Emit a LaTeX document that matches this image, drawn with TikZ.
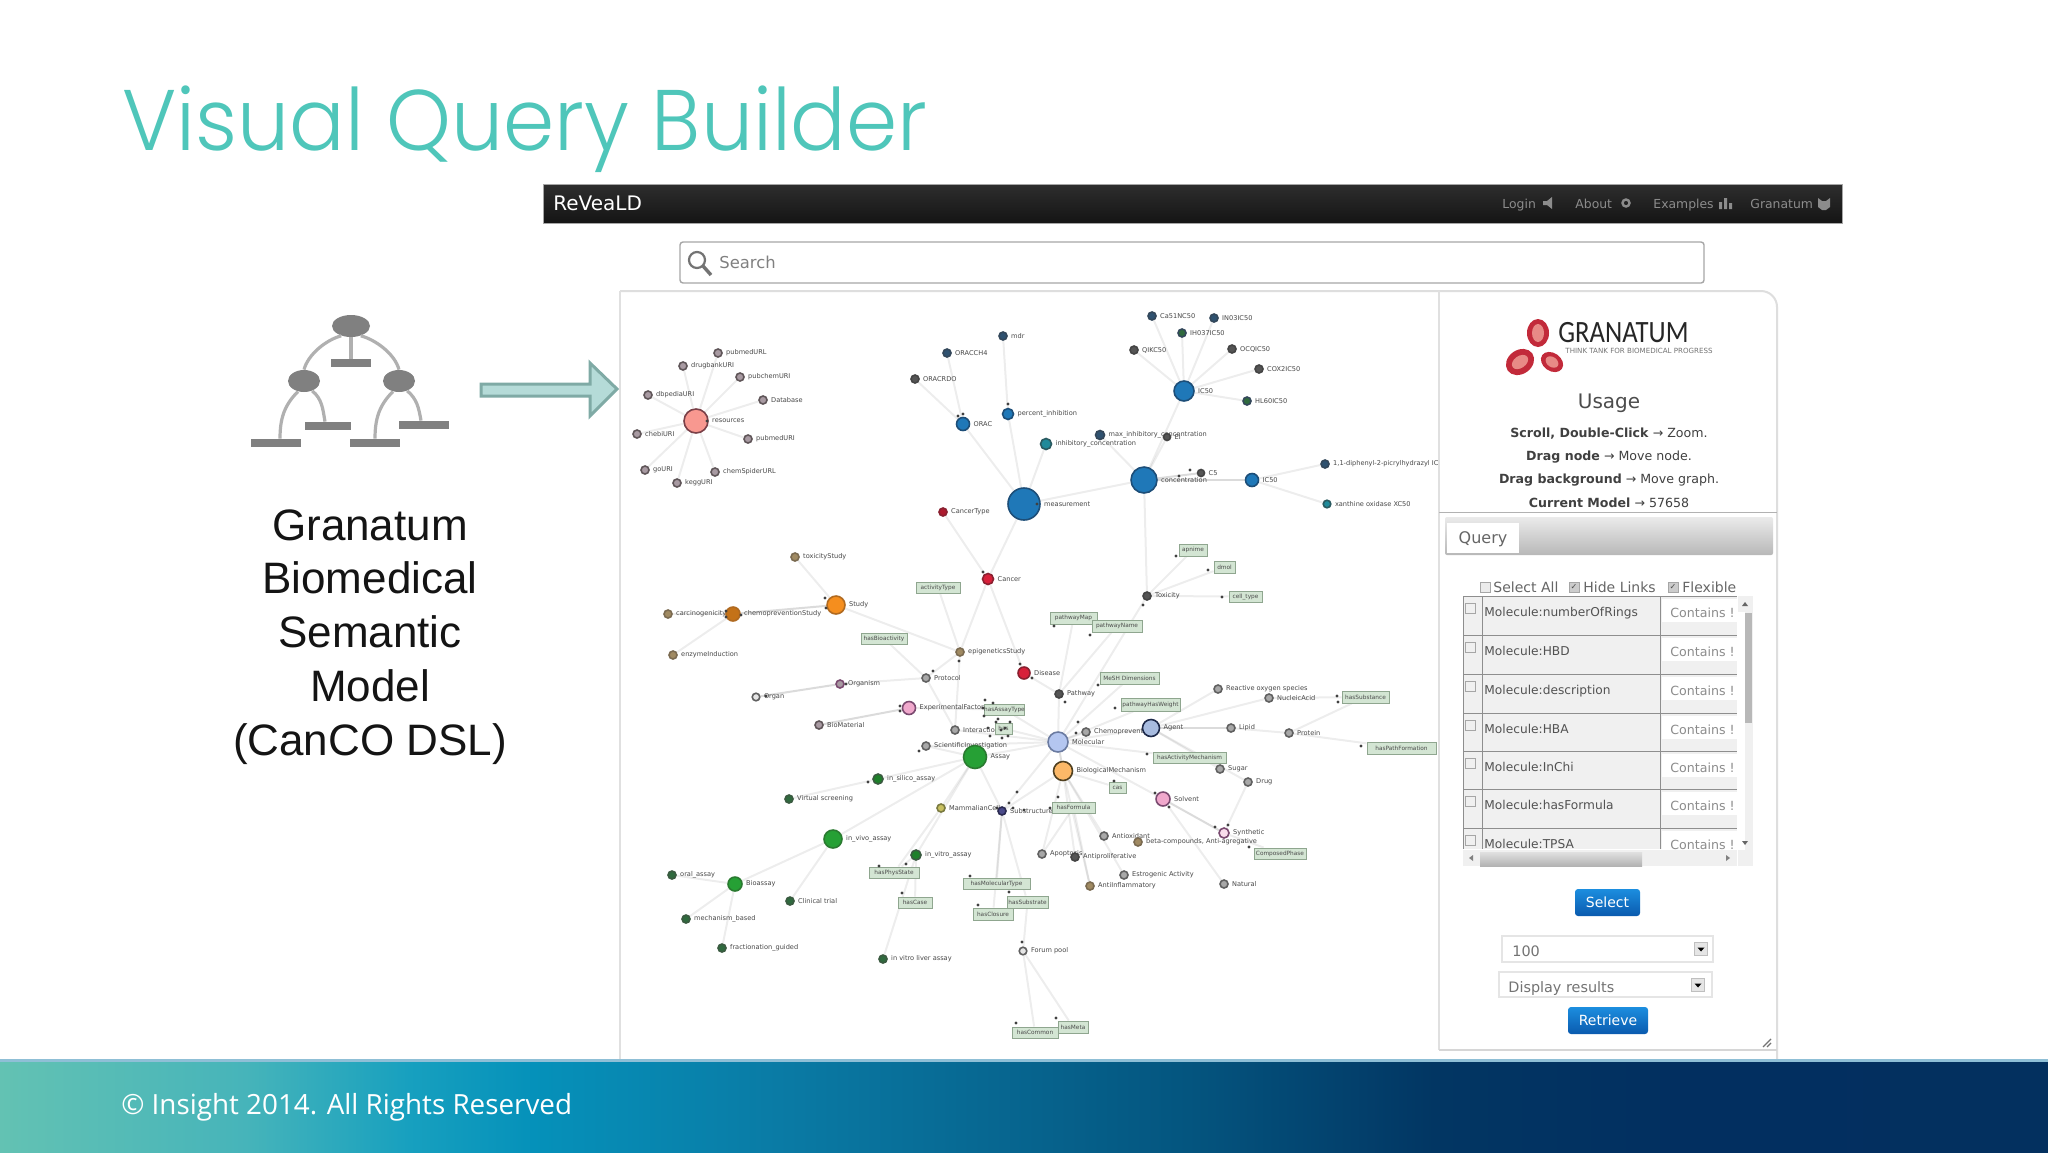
\documentclass[tikz,border=0pt]{standalone}
\usepackage{fontspec}
\setmainfont{DejaVu Sans}
\newfontfamily\titlefont{Poppins Light}
\newfontfamily\footfont{Open Sans}
\newfontfamily\arialfont{Liberation Sans}
\newfontfamily\logofont{Carlito}
\usetikzlibrary{calc,shapes.geometric}
\pgfdeclarelayer{bgl}
\pgfdeclarelayer{edges}
\pgfsetlayers{bgl,edges,main}
\definecolor{cTitle}{HTML}{4FC6BA}
\definecolor{gpFill}{HTML}{A89AA2}\definecolor{gpDraw}{HTML}{5F5558}
\definecolor{bdFill}{HTML}{2F5270}\definecolor{bdDraw}{HTML}{33475A}
\definecolor{bhFill}{HTML}{1F78B8}\definecolor{bhDraw}{HTML}{1D4E78}
\definecolor{gyFill}{HTML}{A8A8A8}\definecolor{gyDraw}{HTML}{606060}
\definecolor{dkFill}{HTML}{555555}\definecolor{dkDraw}{HTML}{444444}
\definecolor{grFill}{HTML}{26A035}\definecolor{grDraw}{HTML}{2A7A30}
\definecolor{gdFill}{HTML}{2F6A3E}\definecolor{gdDraw}{HTML}{3A5A40}
\definecolor{orFill}{HTML}{F58E1E}\definecolor{orDraw}{HTML}{B06A20}
\definecolor{brFill}{HTML}{A08A62}\definecolor{brDraw}{HTML}{7A6A50}
\definecolor{rdFill}{HTML}{D8203A}\definecolor{rdDraw}{HTML}{8A2030}
\definecolor{pkFill}{HTML}{F0A8CC}\definecolor{pkDraw}{HTML}{7A4A70}
\definecolor{lbFill}{HTML}{B4C6F0}\definecolor{lbDraw}{HTML}{6A7AA0}
\definecolor{loFill}{HTML}{FBB868}\definecolor{loDraw}{HTML}{504020}
\definecolor{saFill}{HTML}{F89890}\definecolor{saDraw}{HTML}{7A4048}
\definecolor{agFill}{HTML}{A8BCE0}\definecolor{agDraw}{HTML}{1E2A4A}
\definecolor{ylFill}{HTML}{C8C060}\definecolor{ylDraw}{HTML}{7A7A40}
\definecolor{nvFill}{HTML}{4A4A8A}\definecolor{nvDraw}{HTML}{2A2A50}
\definecolor{tlFill}{HTML}{1F8A9A}\definecolor{tlDraw}{HTML}{2A5A60}
\definecolor{tagFill}{HTML}{D3E5D3}\definecolor{tagDraw}{HTML}{8FA68F}
\definecolor{iconG}{HTML}{8C8C8C}\definecolor{barG}{HTML}{808080}\definecolor{lineG}{HTML}{B0B0B0}
\definecolor{arF}{HTML}{B5DBD8}\definecolor{arD}{HTML}{7FAAA5}
\definecolor{rowG}{HTML}{F0F0F0}\definecolor{ruleG}{HTML}{8E8E8E}
\definecolor{btnT}{HTML}{1C8EDF}\definecolor{btnB}{HTML}{0A5AAE}
\definecolor{redL}{HTML}{C22A3A}\definecolor{redI}{HTML}{E88A86}
\definecolor{footLine}{HTML}{8FBFD6}
\pgfdeclarehorizontalshading{footband}{100bp}{
 rgb(0bp)=(.388,.761,.702);
 rgb(25bp)=(.388,.761,.702);
 rgb(31bp)=(.275,.706,.729);
 rgb(35bp)=(.09,.627,.749);
 rgb(38bp)=(.02,.569,.729);
 rgb(44bp)=(.039,.482,.647);
 rgb(54bp)=(.016,.333,.498);
 rgb(60bp)=(.008,.212,.388);
 rgb(66bp)=(.008,.184,.376);
 rgb(75bp)=(.012,.188,.373);
 rgb(100bp)=(.012,.188,.373)}
\newcommand\fsz[1]{\fontsize{#1}{#1}\selectfont}
\tikzset{
 x=0.5pt,y=-0.5pt,
 gnode/.style={circle,inner sep=0pt,line width=0.8pt},
 glab/.style={inner sep=0pt,text=black!72,font=\fsz{3.3},label distance=1.5pt},
 tagbox/.style={rectangle,draw=tagDraw,fill=tagFill,inner sep=0pt,line width=0.5pt,text=black!70,font=\fsz{2.9}},
 lnk/.style={draw=black,draw opacity=0.07,line width=1pt},
 lnkb/.style={draw=black,draw opacity=0.14,line width=1pt},
 dotm/.style={fill=black!75},
 treebar/.style={rectangle,fill=barG,inner sep=0pt,minimum height=4pt},
 treeell/.style={ellipse,fill=barG,inner sep=0pt},
 treeline/.style={draw=lineG,line width=1.6pt},
 bluebtn/.style={rectangle,rounded corners=1.5pt,top color=btnT,bottom color=btnB,text=white,font=\fsz{7},inner sep=0pt},
 rowtxt/.style={anchor=base west,inner sep=0pt,text=black!68,font=\fsz{6.1}},
 conttxt/.style={anchor=base west,inner sep=0pt,text=black!45,font=\fsz{6.3}},
 chk/.style={rectangle,draw=black!35,fill=white!92!black,line width=0.4pt,minimum size=5pt,inner sep=0pt},
 side/.style={anchor=base,inner sep=0pt,text=black!75,font=\fsz{6.3}},
 navt/.style={anchor=base west,inner sep=0pt,text=black!45,font=\fsz{6.2}},
 seltxt/.style={anchor=base west,inner sep=0pt,text=black!60,font=\fsz{7}},
}
\newcommand\gn[7]{\node[gnode,minimum size=#4 pt,fill=#5,draw=#6,label={[glab]right:#7}] (#1) at (#2,#3) {};}
\newcommand\tg[6]{\pgfmathsetmacro\tgw{(#4-#2)*0.5}\pgfmathsetmacro\tgh{(#5-#3)*0.5}\node[tagbox,minimum width=\tgw pt,minimum height=\tgh pt] (#1) at ({(#2+#4)/2},{(#3+#5)/2}) {#6};}
\begin{document}
\begin{tikzpicture}
\useasboundingbox (0,0) rectangle (2048,1152);
\begin{pgfonlayer}{bgl}
\fill[white] (0,0) rectangle (2048,1152);
% panel outlines
\draw[black!13,line width=1pt,rounded corners=8pt] (620,291) -- (1777,291) -- (1777,1060);
\draw[black!12,line width=0.8pt] (620,291) -- (620,1060);
\draw[black!12,line width=0.8pt] (1439,291) -- (1439,1050);
\draw[black!16,line width=1.2pt] (1439,1050) -- (1777,1050);
\end{pgfonlayer}
% title
\node[anchor=base west,inner sep=0pt,text=cTitle,font=\titlefont\fsz{43}] (title) at (122,150) {\scalebox{0.957}[1]{Visual Query Builder}};
% footer
\shade[shading=footband] (0,1060) rectangle (2048,1152);
\fill[footLine] (0,1059) rectangle (2048,1062);
\node[anchor=base west,inner sep=0pt,text=white,font=\footfont\fsz{13.9}] (foot) at (121,1114) {© Insight 2014. All Rights Reserved};
% navbar
\draw[black!35,line width=0.5pt,top color=black!82,bottom color=black!92] (543,184) rectangle (1842,223);
\node[anchor=base west,inner sep=0pt,text=white,font=\fsz{10}] (brand) at (553,210) {ReVeaLD};
\node[navt] (nlogin) at (1502,208) {Login};
\fill[black!45] (1543,201) -- (1547,201) -- (1552,197) -- (1552,209) -- (1547,205) -- (1543,205) -- cycle;
\node[navt] (nabout) at (1575,208) {About};
\draw[black!45,line width=1.2pt] (1626,203) circle (3.5);
\node[navt] (nex) at (1653,208) {Examples};
\fill[black!45] (1719,202) rectangle (1722,209) (1724,198) rectangle (1727,209) (1729,203) rectangle (1732,209);
\node[navt] (ngr) at (1750,208) {Granatum};
\fill[black!45] (1818,198) -- (1822,201) -- (1826,201) -- (1830,198) -- (1830,207) -- (1826,210) -- (1822,210) -- (1818,207) -- cycle;
% search
\draw[black!35,line width=0.7pt,fill=white,rounded corners=1.5pt] (680,242) rectangle (1704,283);
\draw[black!55,line width=1.1pt] (697,260) circle (8);
\draw[black!55,line width=1.7pt] (703,266) -- (711,275);
\node[anchor=base west,inner sep=0pt,text=black!50,font=\fsz{8.2}] (search) at (719,268) {Search};
% tree icon
\node[treeell,minimum width=19pt,minimum height=11pt] (t0) at (351,326) {};
\node[treeell,minimum width=16pt,minimum height=11pt] (t1) at (304,381) {};
\node[treeell,minimum width=16pt,minimum height=11pt] (t2) at (399,381) {};
\node[treebar,minimum width=20pt] (b0) at (351,363) {};
\node[treebar,minimum width=23pt] (b1) at (328,426) {};
\node[treebar,minimum width=25pt] (b2) at (276,443) {};
\node[treebar,minimum width=25pt] (b3) at (424,425) {};
\node[treebar,minimum width=25pt] (b4) at (375,443) {};
\draw[treeline] (t0) -- (b0);
\draw[treeline] (t0.225) to[out=195,in=75,looseness=0.8] (t1.90);
\draw[treeline] (t0.315) to[out=-15,in=105,looseness=0.8] (t2.90);
\draw[treeline] (t1.240) to[out=225,in=90] ($(b2.north)+(4,0)$);
\draw[treeline] (t1.310) to[out=-40,in=100] ($(b1.north)+(-3,0)$);
\draw[treeline] (t2.240) to[out=225,in=90] (b4.north);
\draw[treeline] (t2.310) to[out=-40,in=100] ($(b3.north)+(-3,0)$);
% big arrow
\draw[arD,fill=arF,line width=1.5pt,line join=miter] (481,384) -- (590,384) -- (590,363) -- (617,389) -- (590,416) -- (590,396) -- (481,396) -- cycle;
% left text
\node[align=center,inner sep=0pt,text=black!92,font=\arialfont\fsz{22}] (ltxt) at (370,639) {\begin{tabular}{@{}c@{}}Granatum\\[4.4pt]Biomedical\\[4.4pt]Semantic\\[4.4pt]Model\\[4.4pt](CanCO DSL)\end{tabular}};
% graph nodes
\gn{res}{696}{421}{12}{saFill}{saDraw}{resources}
\gn{a1}{718}{353}{4}{gpFill}{gpDraw}{pubmedURL}
\gn{a2}{683}{366}{4}{gpFill}{gpDraw}{drugbankURI}
\gn{a3}{740}{377}{4}{gpFill}{gpDraw}{pubchemURI}
\gn{a4}{763}{400}{4}{gpFill}{gpDraw}{Database}
\gn{a5}{648}{395}{4}{gpFill}{gpDraw}{dbpediaURI}
\gn{a6}{637}{434}{4}{gpFill}{gpDraw}{chebiURI}
\gn{a7}{748}{439}{4}{gpFill}{gpDraw}{pubmedURI}
\gn{a8}{645}{470}{4}{gpFill}{gpDraw}{goURI}
\gn{a9}{677}{483}{4}{gpFill}{gpDraw}{keggURI}
\gn{a10}{715}{472}{4}{gpFill}{gpDraw}{chemSpiderURL}
\gn{mdr}{1003}{336}{4}{bdFill}{bdDraw}{mdr}
\gn{och}{947}{353}{4}{bdFill}{bdDraw}{ORACCH4}
\gn{ord}{915}{379}{4}{dkFill}{dkDraw}{ORACRDO}
\gn{orac}{963}{424}{6.5}{bhFill}{bhDraw}{ORAC}
\gn{perc}{1008}{414}{5.5}{bhFill}{bhDraw}{percent\_inhibition}
\gn{meas}{1024}{504}{16}{bhFill}{bhDraw}{measurement}
\gn{ctype}{943}{512}{4}{rdFill!80!black}{rdDraw}{CancerType}
\gn{canc}{988}{579}{5.5}{rdFill}{rdDraw}{Cancer}
\gn{c1}{1152}{316}{4}{bdFill}{bdDraw}{Ca51NC50}
\gn{c2}{1214}{318}{4}{bdFill}{bdDraw}{IN03IC50}
\gn{c3}{1182}{333}{4}{gdFill}{bdDraw}{IH037IC50}
\gn{c4}{1134}{350}{4}{dkFill}{dkDraw}{QIKC50}
\gn{c5}{1232}{349}{4}{dkFill}{dkDraw}{OCQIC50}
\gn{c6}{1259}{369}{4}{dkFill}{dkDraw}{COX2IC50}
\gn{c7}{1247}{401}{4}{gdFill}{bdDraw}{HL60IC50}
\gn{ich}{1184}{391}{10}{bhFill}{bhDraw}{IC50}
\gn{maxi}{1100}{435}{4.5}{bdFill}{bdDraw}{max\_inhibitory\_concentration}
\gn{ei}{1167}{437}{3.5}{dkFill}{dkDraw}{EI}
\gn{inh}{1046}{444}{5.5}{tlFill}{tlDraw}{inhibitory\_concentration}
\gn{conc}{1144}{480}{13}{bhFill}{bhDraw}{concentration}
\gn{cfive}{1201}{473}{3.5}{dkFill}{dkDraw}{C5}
\gn{ics}{1252}{480}{6.5}{bhFill}{bhDraw}{IC50}
\gn{dpph}{1325}{464}{4}{bdFill}{bdDraw}{1,1-diphenyl-2-picrylhydrazyl IC}
\gn{xan}{1327}{504}{3.8}{tlFill}{tlDraw}{xanthine oxidase XC50}
\gn{tox}{795}{557}{4}{brFill}{brDraw}{toxicityStudy}
\gn{stud}{836}{605}{9}{orFill}{orDraw}{Study}
\gn{carc}{668}{614}{4}{brFill}{brDraw}{carcinogenicity}
\gn{chem}{733}{614}{7}{orFill!80!black}{orDraw}{chemopreventionStudy}
\gn{enz}{673}{655}{4}{brFill}{brDraw}{enzymeInduction}
\gn{epi}{960}{652}{4}{brFill}{brDraw}{epigeneticsStudy}
\gn{prot}{926}{678}{4}{gyFill}{gyDraw}{Protocol}
\gn{orgm}{840}{684}{4}{gpFill}{pkDraw}{Organism}
\gn{orgn}{756}{697}{3.8}{white!70!gyFill}{gyDraw}{Organ}
\gn{expf}{909}{708}{6.5}{pkFill}{pkDraw}{ExperimentalFactor}
\gn{biom}{819}{725}{4}{gpFill}{gpDraw}{BioMaterial}
\gn{intr}{955}{730}{4}{gyFill}{gyDraw}{Interaction}
\gn{sci}{926}{746}{4}{gyFill}{gyDraw}{ScientificInvestigation}
\gn{assay}{975}{757}{11.5}{grFill}{grDraw}{Assay}
\gn{insi}{878}{779}{5}{grFill!80!black}{gdDraw}{in\_silico\_assay}
\gn{virt}{789}{799}{4}{gdFill}{gdDraw}{Virtual screening}
\gn{dis}{1024}{673}{6}{rdFill}{rdDraw}{Disease}
\gn{path}{1059}{694}{4}{dkFill}{dkDraw}{Pathway}
\gn{molc}{1058}{742}{10}{lbFill}{lbDraw}{Molecular}
\gn{biol}{1063}{771}{9.5}{loFill}{loDraw}{BiologicalMechanism}
\gn{mamm}{941}{808}{4}{ylFill}{ylDraw}{MammalianCell}
\gn{subs}{1002}{811}{4}{nvFill}{nvDraw}{Substructure}
\gn{toxy}{1147}{596}{4}{dkFill}{dkDraw}{Toxicity}
\gn{chpr}{1086}{732}{4}{gyFill}{gyDraw}{Chemoprevention}
\gn{agen}{1151}{728}{8.5}{agFill}{agDraw}{Agent}
\gn{reac}{1218}{689}{4}{gyFill}{gyDraw}{Reactive oxygen species}
\gn{nucl}{1269}{698}{4}{gyFill}{gyDraw}{NucleicAcid}
\gn{lipi}{1231}{728}{4}{gyFill}{gyDraw}{Lipid}
\gn{prtn}{1289}{733}{4}{gyFill}{gyDraw}{Protein}
\gn{suga}{1220}{769}{4}{gyFill}{gyDraw}{Sugar}
\gn{drug}{1248}{782}{4}{gyFill}{gyDraw}{Drug}
\gn{solv}{1163}{799}{7}{pkFill}{pkDraw}{Solvent}
\gn{synt}{1224}{833}{5}{white!60!pkFill}{pkDraw}{Synthetic}
\gn{anto}{1104}{836}{4}{gyFill}{gyDraw}{Antioxidant}
\gn{beta}{1138}{842}{4}{brFill}{brDraw}{beta-compounds, Anti-agregative}
\gn{natu}{1224}{884}{4}{gyFill}{gyDraw}{Natural}
\gn{apop}{1042}{854}{4}{gyFill}{gyDraw}{Apoptosis}
\gn{anpr}{1075}{857}{4}{dkFill}{dkDraw}{Antiproliferative}
\gn{estr}{1124}{875}{4}{gyFill}{gyDraw}{Estrogenic Activity}
\gn{anti}{1090}{886}{4}{brFill}{brDraw}{AntiInflammatory}
\gn{viv}{833}{839}{9}{grFill}{grDraw}{in\_vivo\_assay}
\gn{vit}{916}{855}{5}{grFill!80!black}{gdDraw}{in\_vitro\_assay}
\gn{bioa}{735}{884}{7}{grFill}{grDraw}{Bioassay}
\gn{oral}{672}{875}{4}{gdFill}{gdDraw}{oral\_assay}
\gn{mech}{686}{919}{4}{gdFill}{gdDraw}{mechanism\_based}
\gn{frac}{722}{948}{4}{gdFill}{gdDraw}{fractionation\_guided}
\gn{clin}{790}{901}{4}{gdFill}{gdDraw}{Clinical trial}
\gn{live}{883}{959}{4}{gdFill}{gdDraw}{in vitro liver assay}
\gn{foru}{1023}{951}{3.8}{white!70!gyFill}{gyDraw}{Forum pool}
% tags
\tg{tA}{916}{582}{960}{593}{activityType}
\tg{tB}{861}{633}{907}{644}{hasBioactivity}
\tg{tC}{985}{704}{1024}{715}{hasAssayType}
\tg{tD}{995}{723}{1012}{734}{has}
\tg{tE}{1179}{544}{1207}{556}{apnime}
\tg{tF}{1214}{561}{1235}{573}{dmol}
\tg{tG}{1229}{591}{1262}{602}{cell\_type}
\tg{tH}{1050}{612}{1097}{624}{pathwayMap}
\tg{tI}{1092}{620}{1142}{632}{pathwayName}
\tg{tJ}{1100}{672}{1159}{684}{MeSH Dimensions}
\tg{tK}{1121}{698}{1180}{711}{pathwayHasWeight}
\tg{tL}{1342}{691}{1389}{703}{hasSubstance}
\tg{tM}{1367}{742}{1436}{754}{hasPathFormation}
\tg{tN}{1153}{752}{1226}{763}{hasActivityMechanism}
\tg{tO}{1109}{782}{1126}{793}{cas}
\tg{tP}{1052}{802}{1095}{813}{hasFormula}
\tg{tQ}{1254}{848}{1306}{859}{ComposedPhase}
\tg{tR}{1012}{1027}{1058}{1038}{hasCommon}
\tg{tS}{1058}{1021}{1088}{1033}{hasMeta}
\tg{tT}{869}{867}{919}{878}{hasPhysState}
\tg{tU}{898}{897}{932}{908}{hasCase}
\tg{tV}{963}{878}{1030}{889}{hasMolecularType}
\tg{tW}{1007}{896}{1048}{908}{hasSubstrate}
\tg{tX}{973}{908}{1013}{920}{hasClosure}
% edges
\begin{pgfonlayer}{edges}
\foreach \a/\b in {ich/c1,ich/c2,ich/c3,ich/c4,ich/c5,ich/c6,ich/c7,viv/bioa,viv/clin,bioa/oral,bioa/mech,bioa/frac,res/a1,res/a2,res/a3,res/a4,res/a5,res/a6,res/a7,res/a8,res/a9,res/a10,
 mdr/perc,och/orac,ord/orac,orac/meas,perc/meas,inh/meas,conc/meas,canc/meas,ctype/canc,
 conc/ich,conc/maxi,conc/ei,ics/dpph,ics/xan,
 conc/toxy,toxy/tE,toxy/tF,toxy/tG,toxy/molc,canc/dis,canc/epi,
 stud/tox,stud/epi,chem/carc,chem/enz,tA/epi,tB/prot,
 epi/prot,epi/intr,prot/orgm,expf/tC,prot/intr,sci/assay,
 dis/path,path/tH,path/tI,path/molc,tJ/molc,tK/molc,
 assay/insi,assay/viv,assay/vit,assay/molc,assay/subs,insi/virt,vit/live,vit/tT,vit/tU,
 subs/tV,subs/tW,subs/tX,tW/foru,foru/tR,foru/tS,subs/molc,mamm/assay,mamm/tT,
 biol/apop,biol/anpr,biol/estr,biol/anti,biol/anto,biol/subs,biol/molc,tP/apop,tP/anti,
 molc/chpr,molc/agen,molc/biol,molc/solv,molc/tN,molc/tD,tC/molc,sci/molc,intr/molc,
 agen/reac,agen/nucl,nucl/tL,prtn/tL,lipi/prtn,prtn/tM,agen/suga,agen/drug,solv/natu,synt/drug,synt/tQ,tO/biol}
 {\draw[lnk] (\a) -- (\b);}
\foreach \a/\b in {conc/cfive,conc/ics,agen/lipi,solv/synt,orgm/orgn,expf/biom,chem/stud}
 {\draw[lnkb] (\a) -- (\b);}
\end{pgfonlayer}
% small dots
\foreach \p/\q in {707/421,1037/504,958/416,963/414,1008/404,983/572,1020/664,1032/678,1065/702,933/671,959/661,
 825/598,826/608,726/617,726/611,741/615,846/684,766/696,900/706,900/711,985/700,983/708,984/716,993/703,
 996/722,988/728,990/736,998/719,1002/738,1008/736,1005/728,1010/722,1001/730,919/751,868/782,1017/792,
 997/808,1009/803,1013/808,1024/810,1050/808,1078/722,1076/733,1114/781,1155/793,1169/807,1215/827,1228/825,1249/847,
 1176/556,1208/570,1222/597,1143/605,1054/626,1090/635,1098/685,1115/708,1147/754,1337/696,1338/702,
 1361/746,1058/797,879/866,906/864,902/893,970/876,1009/892,978/905,1022/942,1016/1023,1056/1018,1190/470,1179/476}
 {\fill[dotm] (\p,\q) circle (1.6);}
% sidebar
\fill[redL] (1538,333) ellipse[x radius=11,y radius=14];
\fill[redI] (1538,333) ellipse[x radius=6,y radius=9];
\fill[redL,rotate around={35:(1520,362)}] (1520,362) ellipse[x radius=15,y radius=12];
\fill[redI,rotate around={35:(1520,362)}] (1520,362) ellipse[x radius=9,y radius=6];
\fill[redL,rotate around={-35:(1552,362)}] (1552,362) ellipse[x radius=12,y radius=9];
\fill[redI,rotate around={-35:(1552,362)}] (1552,362) ellipse[x radius=7,y radius=5];
\node[anchor=west,inner sep=0pt,text=black!85,font=\logofont\fsz{15.5}] (lg) at (1558,333) {\scalebox{0.86}[1]{GRANATUM}};
\node[anchor=west,inner sep=0pt,text=black!55,font=\fsz{3.55}] (lgs) at (1565,351) {THINK TANK FOR BIOMEDICAL PROGRESS};
\node[side,text=black!70,font=\fsz{10}] (usage) at (1609,408) {Usage};
\node[side] (u1) at (1609,437) {\textbf{Scroll, Double-Click} → Zoom.};
\node[side] (u2) at (1609,460) {\textbf{Drag node} → Move node.};
\node[side] (u3) at (1609,483) {\textbf{Drag background} → Move graph.};
\node[side] (u4) at (1609,507) {\textbf{Current Model} → 57658};
\draw[black!30,line width=0.4pt] (1439,512) -- (1777,512);
\shade[top color=black!8,bottom color=black!28,rounded corners=1pt] (1445,517) rectangle (1773,555);
\fill[white] (1447,523) rectangle (1519,553);
\node[anchor=base,inner sep=0pt,text=black!60,font=\fsz{8}] (qry) at (1483,543) {Query};
\node[chk] (c1b) at (1485,587) {};
\node[seltxt] (sa) at (1493,592) {Select All};
\node[chk,fill=black!20,font=\fsz{4},text=black!70] (c2b) at (1574,587) {✓};
\node[seltxt] (hl) at (1583,592) {Hide Links};
\node[chk,fill=black!20,font=\fsz{4},text=black!70] (c3b) at (1673,587) {✓};
\node[seltxt] (fl) at (1682,592) {Flexible};
% table
\fill[rowG] (1463,596) rectangle (1737,849);
\foreach \y/\t in {596/numberOfRings,635/HBD,674/description,713/HBA,751/InChi,789/hasFormula,828/TPSA}{
 \fill[white] (1662,\y+3) rectangle (1737,\y+26);
 \draw[ruleG,line width=0.5pt] (1463,\y) -- (1737,\y);
 \node[chk,fill=rowG] at (1470,\y+12) {};
 \node[rowtxt] at (1484,\y+20) {Molecule:\t};
 \node[conttxt] at (1670,\y+21) {Contains !};
}
\draw[ruleG,line width=0.5pt] (1463,596) -- (1463,849) (1482,596) -- (1482,849) (1660,596) -- (1660,849);
% scrollbars
\fill[rowG] (1738,596) rectangle (1753,866);
\fill[white] (1738,596) rectangle (1745,850);
\fill[rowG] (1738,596) rectangle (1753,612);
\fill[black!28] (1745,613) rectangle (1752,723);
\fill[black!60] (1742,606) -- (1748,606) -- (1745,602) -- cycle;
\fill[black!60] (1742,841) -- (1748,841) -- (1745,845) -- cycle;
\fill[black!6] (1463,850) rectangle (1737,866);
\shade[top color=black!12,bottom color=black!30] (1480,852) rectangle (1642,866);
\fill[black!50] (1473,855) -- (1473,861) -- (1469,858) -- cycle;
\fill[black!50] (1726,855) -- (1726,861) -- (1730,858) -- cycle;
% buttons
\node[bluebtn,minimum width=32.5pt,minimum height=13.5pt] (bsel) at (1607.5,902.5) {Select};
\draw[black!10,line width=0.7pt] (1502,936) rectangle (1713,962);
\node[anchor=base west,inner sep=0pt,text=black!55,font=\fsz{7.2}] (v100) at (1512,956) {100};
\node[draw=black!25,fill=black!10,minimum size=6.5pt,inner sep=0pt,line width=0.4pt] (dd1) at (1701,949) {};
\fill[black] (1697.5,947.5) -- (1704.5,947.5) -- (1701,951.5) -- cycle;
\draw[black!10,line width=0.7pt] (1499,972) rectangle (1712,997);
\node[anchor=base west,inner sep=0pt,text=black!55,font=\fsz{7.2}] (vdr) at (1508,992) {Display results};
\node[draw=black!25,fill=black!10,minimum size=6.5pt,inner sep=0pt,line width=0.4pt] (dd2) at (1698,985) {};
\fill[black] (1694.5,983.5) -- (1701.5,983.5) -- (1698,987.5) -- cycle;
\node[bluebtn,minimum width=40pt,minimum height=13.5pt] (bret) at (1608,1020.5) {Retrieve};
\draw[black!55,line width=0.6pt] (1763,1047) -- (1771,1039) (1767,1047) -- (1771,1043);
\end{tikzpicture}
\end{document}
